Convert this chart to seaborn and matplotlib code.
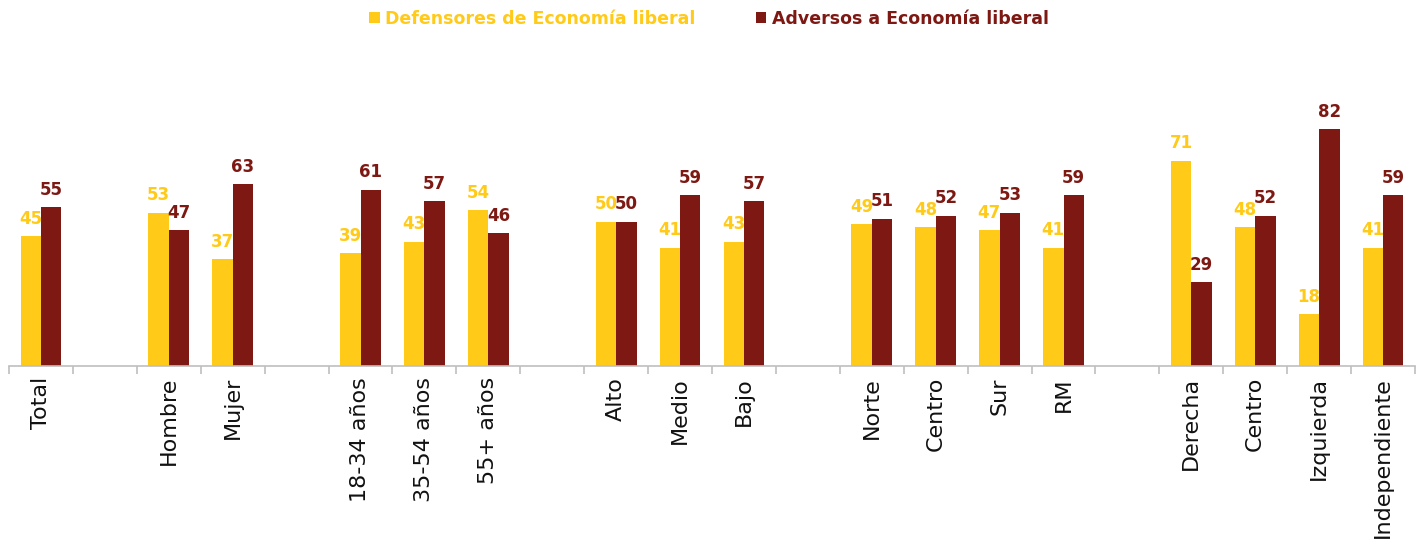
import pandas as pd
import matplotlib
matplotlib.use('Agg')
import matplotlib.pyplot as plt
from matplotlib.patches import Patch
import seaborn as sns

# slot keys (unique), blanks separate the groups
slots = ['Total', 'g1', 'Hombre', 'Mujer', 'g2', '18-34 años', '35-54 años', '55+ años', 'g3',
         'Alto', 'Medio', 'Bajo', 'g4', 'Norte', 'Centro zona', 'Sur', 'RM', 'g5',
         'Derecha', 'Centro pol', 'Izquierda', 'Independiente']
tick_labels = ['Total', '', 'Hombre', 'Mujer', '', '18-34 años', '35-54 años', '55+ años', '',
               'Alto', 'Medio', 'Bajo', '', 'Norte', 'Centro', 'Sur', 'RM', '',
               'Derecha', 'Centro', 'Izquierda', 'Independiente']

categorias = ['Total', 'Hombre', 'Mujer', '18-34 años', '35-54 años', '55+ años',
              'Alto', 'Medio', 'Bajo', 'Norte', 'Centro zona', 'Sur', 'RM',
              'Derecha', 'Centro pol', 'Izquierda', 'Independiente']
defensores = [45, 53, 37, 39, 43, 54, 50, 41, 43, 49, 48, 47, 41, 71, 48, 18, 41]
adversos = [55, 47, 63, 61, 57, 46, 50, 59, 57, 51, 52, 53, 59, 29, 52, 82, 59]

series = ['Defensores de Economía liberal', 'Adversos a Economía liberal']
colores = ['#FFCA18', '#7D1813']

df = pd.concat([
    pd.DataFrame({'slot': categorias, 'serie': series[0], 'valor': defensores}),
    pd.DataFrame({'slot': categorias, 'serie': series[1], 'valor': adversos}),
])

fig = plt.figure(figsize=(14.18, 5.43), dpi=100)
ax = fig.add_axes([9 / 1418, 177 / 543, 1406 / 1418, 289 / 543])

sns.barplot(data=df, x='slot', y='valor', hue='serie', order=slots, hue_order=series,
            palette=colores, width=0.64, saturation=1, ax=ax, legend=False)

for cont, col in zip(ax.containers, colores):
    ax.bar_label(cont, fmt='%.0f', padding=6, color=col, fontsize=12, fontweight='bold')

ax.set_ylim(0, 100)
ax.set_xlim(-0.5, len(slots) - 0.5)
ax.set_xlabel('')
ax.set_ylabel('')
ax.set_yticks([])
for s in ['top', 'right', 'left']:
    ax.spines[s].set_visible(False)
ax.spines['bottom'].set_color('#BFBFBF')
ax.spines['bottom'].set_linewidth(1.2)

ax.set_xticks(range(len(slots)))
ax.set_xticklabels(tick_labels, rotation=90, fontsize=16, color='#111111')
ax.tick_params(axis='x', which='major', length=0, pad=8)
ax.set_xticks([i - 0.5 for i in range(len(slots) + 1)], minor=True)
ax.tick_params(axis='x', which='minor', length=6, color='#BFBFBF', width=1.2)

handles = [Patch(facecolor=c) for c in colores]
leg = fig.legend(handles, series, loc='center', bbox_to_anchor=(0.5, 0.965), ncol=2,
                 frameon=False, handlelength=0.6, handleheight=0.6, handletextpad=0.3,
                 columnspacing=3.5, prop={'size': 12.5, 'weight': 'bold'})
for t, c in zip(leg.get_texts(), colores):
    t.set_color(c)

fig.savefig('out.png', dpi=100)
